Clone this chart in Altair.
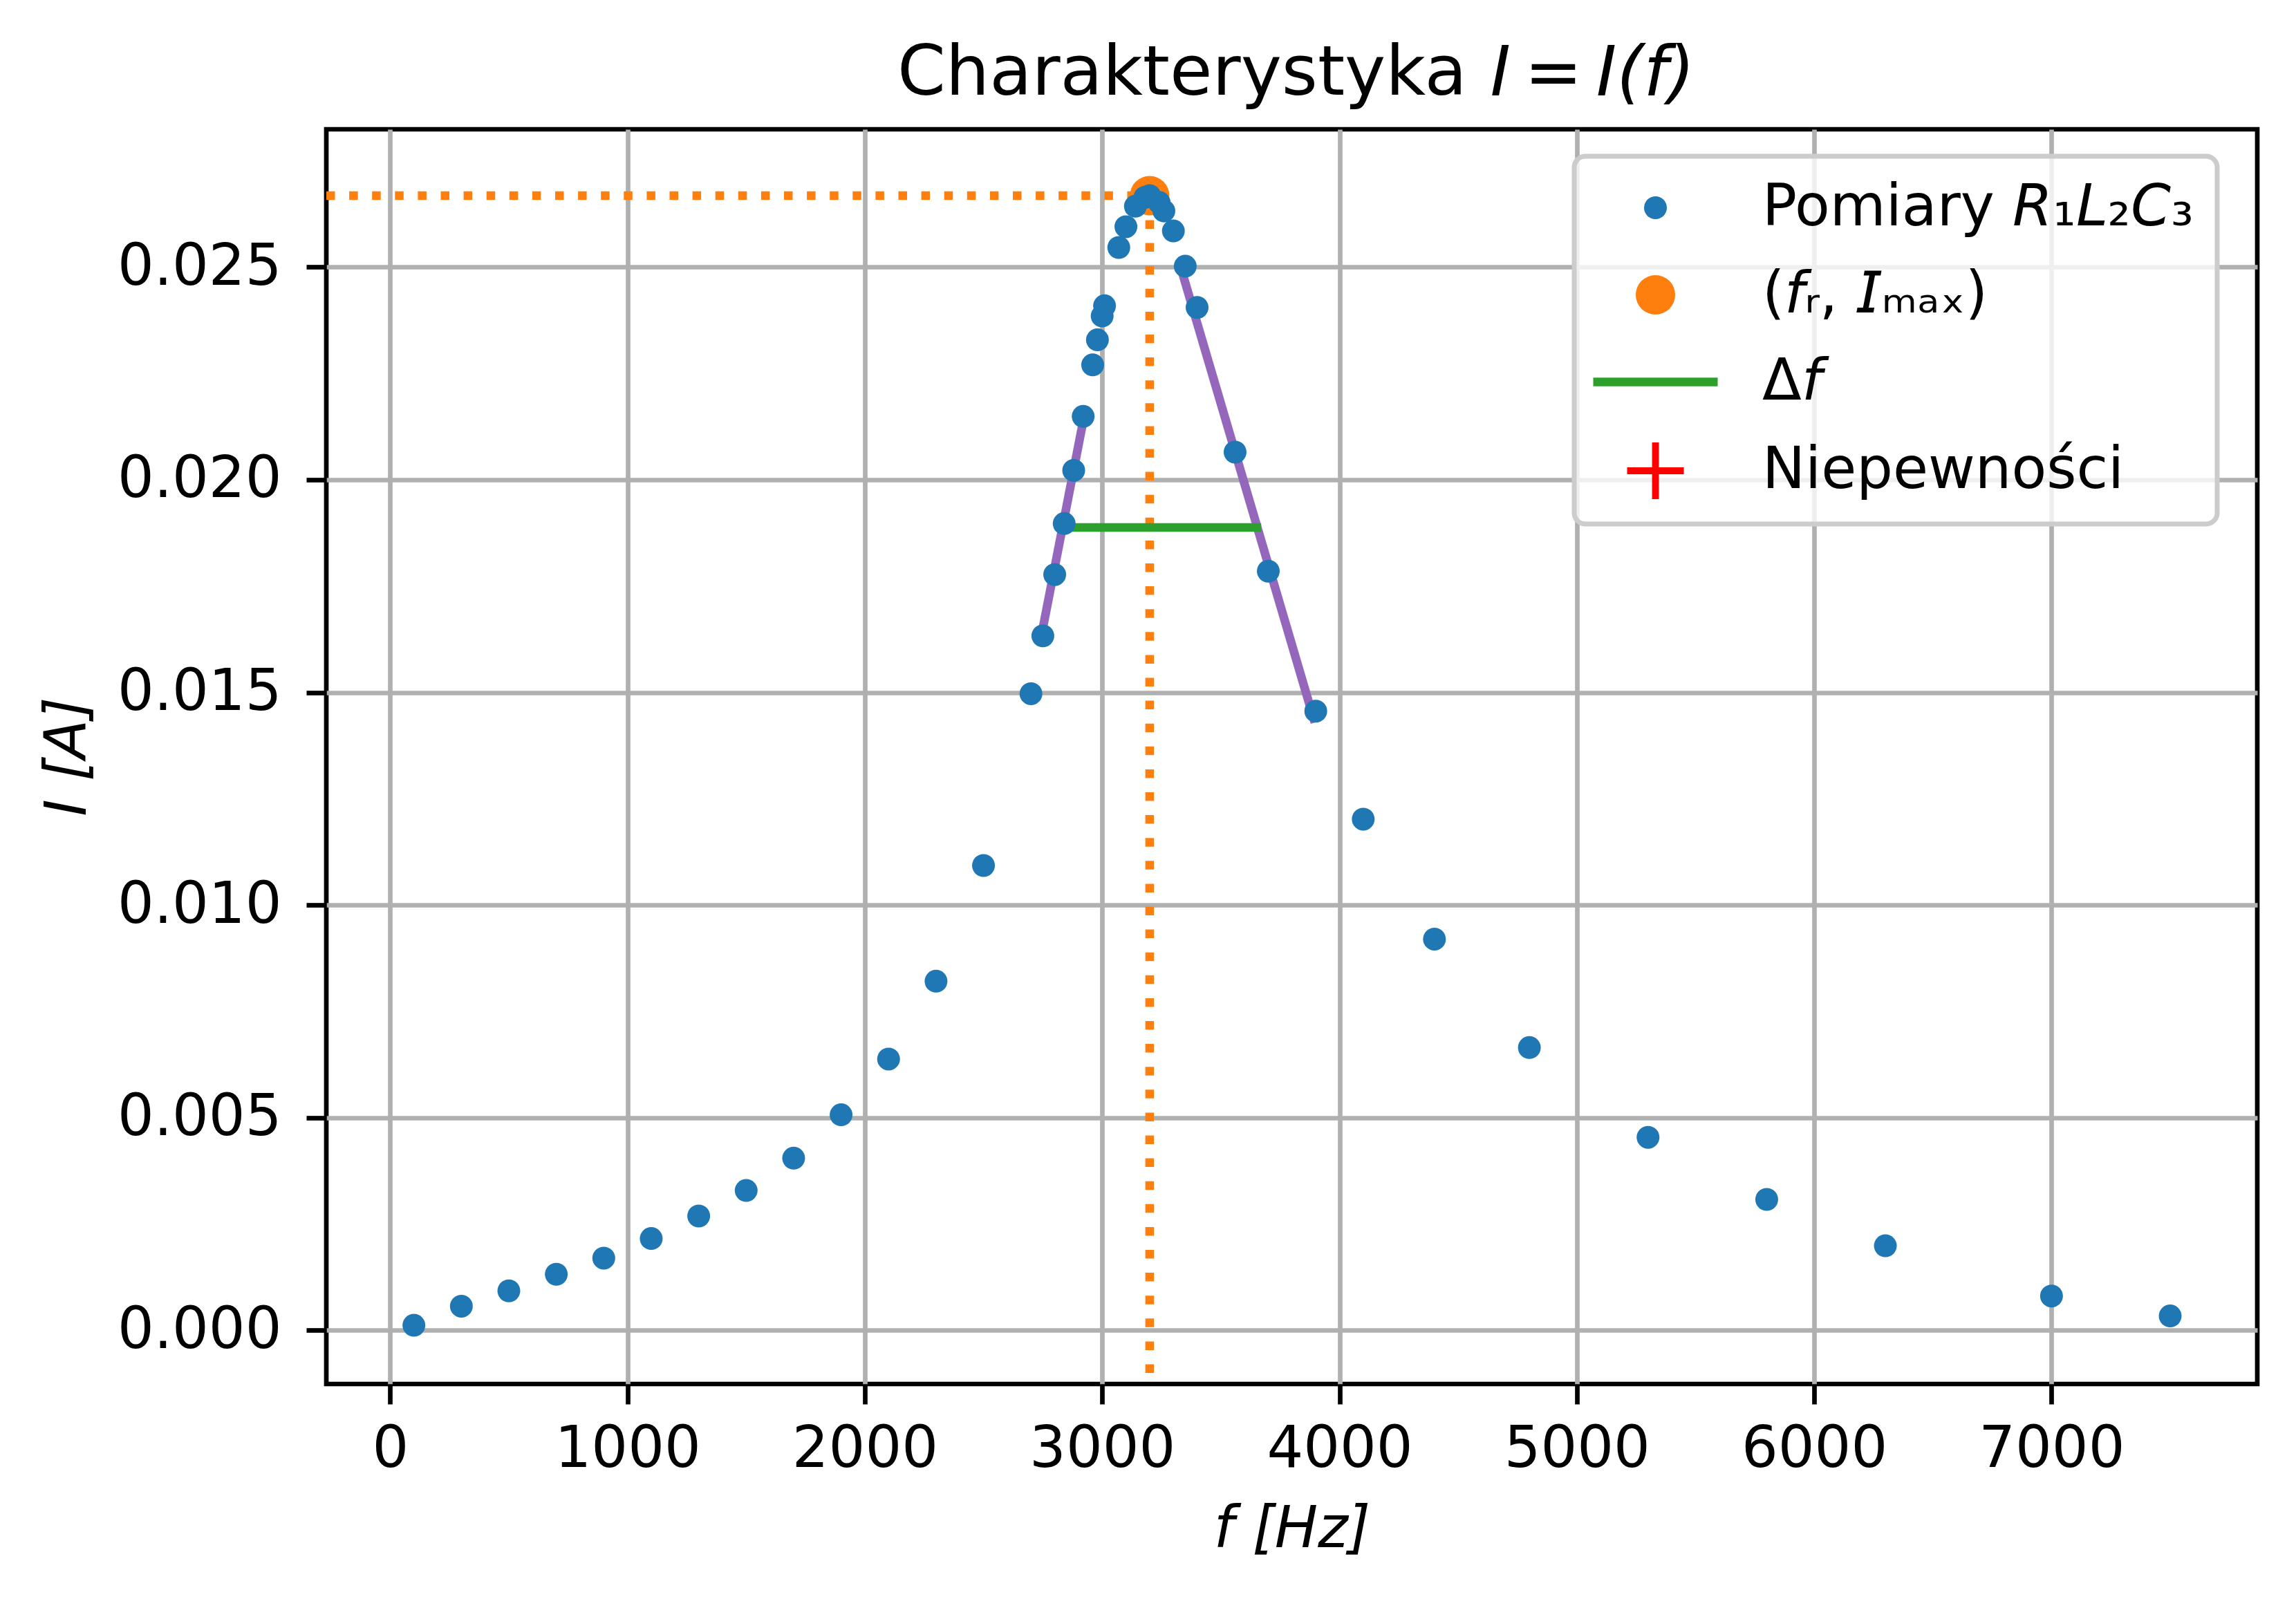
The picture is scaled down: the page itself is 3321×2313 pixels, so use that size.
import altair as alt
import pandas as pd

FONT = "DejaVu Sans"

# pomiary R1 L2 C3: czestotliwosc [Hz] i natezenie [A]
freq = [100, 300, 500, 700, 900, 1100, 1300, 1500, 1700, 1900, 2100, 2300, 2500,
        2700, 2750, 2800, 2840, 2880, 2920, 2960, 2980, 3000, 3010, 3070, 3100,
        3140, 3180, 3200, 3240, 3260, 3300, 3350, 3400, 3560, 3700, 3900, 4100,
        4400, 4800, 5300, 5800, 6300, 7000, 7500]
current = [0.00012, 0.00057, 0.00093, 0.00132, 0.00170, 0.00216, 0.00269, 0.00329,
           0.00405, 0.00507, 0.00638, 0.00821, 0.01093,
           0.01497, 0.01633, 0.01777, 0.01897, 0.02022, 0.02149, 0.02270, 0.02329,
           0.02385, 0.02409, 0.02546, 0.02595,
           0.02643, 0.02664, 0.02668, 0.02652, 0.02632, 0.02585, 0.02502, 0.02405,
           0.02065, 0.01785, 0.01456, 0.01202,
           0.00920, 0.00665, 0.00454, 0.00308, 0.00199, 0.00081, 0.00034]

# rezonans
f_r = 3200
i_max = 0.02668
i_min_line = -0.001

# szerokosc pasma
df_start, df_end, df_level = 2840, 3670, 0.01888

# proste dopasowane do zboczy
fit_f = [2749, 2920, 3337, 3896]
fit_i = [0.01648, 0.02138, 0.02488, 0.01429]
fit_side = ["lewe", "lewe", "prawe", "prawe"]

x_domain = [-269, 7867]
y_domain = [-0.00126, 0.02824]
x_ticks = [0, 1000, 2000, 3000, 4000, 5000, 6000, 7000]
y_ticks = [0.0, 0.005, 0.010, 0.015, 0.020, 0.025]

it = "\U0001D610"   # I
fi = "\U0001D627"   # f
labels = [
    "Pomiary \U0001D619\u2081\U0001D613\u2082\U0001D60A\u2083",
    "(" + fi + "\u1D63, " + it + "\u2098\u2090\u2093)",
    "\u0394" + fi,
    "Niepewności",
]
colors = ["#1f77b4", "#ff7f0e", "#2ca02c", "#ff0000"]
shapes = [
    "circle",
    "circle",
    "M-5,-0.35L5,-0.35L5,0.35L-5,0.35Z",
    "M-1,-0.12L-0.12,-0.12L-0.12,-1L0.12,-1L0.12,-0.12L1,-0.12L1,0.12"
    "L0.12,0.12L0.12,1L-0.12,1L-0.12,0.12L-1,0.12Z",
]
sizes = [1089, 3249, 1296, 6724]

points = pd.DataFrame({
    "f": [f_r] + freq,
    "I": [i_max] + current,
    "seria": [labels[1]] + [labels[0]] * len(freq),
})
hline = pd.DataFrame({"f": [x_domain[0]], "f2": [f_r], "I": [i_max]})
vline = pd.DataFrame({"f": [f_r], "I": [i_min_line], "I2": [i_max]})
band = pd.DataFrame({"f": [df_start], "f2": [df_end], "I": [df_level]})
fits = pd.DataFrame({"f": fit_f, "I": fit_i, "strona": fit_side})

x_scale = alt.Scale(domain=x_domain, nice=False, zero=False)
y_scale = alt.Scale(domain=y_domain, nice=False, zero=False)
x_enc = alt.X("f:Q", scale=x_scale,
              axis=alt.Axis(values=x_ticks, format="d", title="f [Hz]",
                            labelPadding=24, titleY=235, titleBaseline="alphabetic"))
y_enc = alt.Y("I:Q", scale=y_scale,
              axis=alt.Axis(values=y_ticks, format=".3f", title="I [A]",
                            labelPadding=36, titleX=-349, titleY=907,
                            titleBaseline="alphabetic"))
x_plain = alt.X("f:Q", axis=None)

# kursywa w tytule: "I = I(f)" jako tytul gornej osi
x_top = alt.X("f:Q",
              axis=alt.Axis(orient="top", title="I\u2009=\u2009I(f)", labels=False,
                            ticks=False, grid=False, domain=False,
                            titleX=1683, titleY=-50, titleAlign="left",
                            titleAngle=0, titleBaseline="alphabetic",
                            titleFontSize=100))

dotted = dict(color="#ff7f0e", strokeWidth=12.5, strokeDash=[12.5, 20.6], strokeCap="butt")

h_rule = alt.Chart(hline).mark_rule(**dotted).encode(x=x_enc, x2="f2:Q", y="I:Q")
v_rule = alt.Chart(vline).mark_rule(**dotted).encode(x=x_plain, y=y_enc, y2="I2:Q")

fit_lines = alt.Chart(fits).mark_line(color="#9467bd", strokeWidth=12.5).encode(
    x=x_top, y="I:Q", detail="strona:N"
)

band_rule = alt.Chart(band).mark_rule(color="#2ca02c", strokeWidth=12.5).encode(
    x=x_plain, x2="f2:Q", y="I:Q"
)

legend = alt.Legend(
    title=None, orient="none", legendX=1805, legendY=39,
    labelFontSize=83, labelFont=FONT, labelColor="black", labelLimit=2000,
    padding=33, symbolOffset=42.5, labelOffset=112.5, rowPadding=42,
    strokeColor="#cccccc", fillColor="rgba(255,255,255,0.8)", cornerRadius=16,
)

pts = alt.Chart(points).mark_point(filled=True, opacity=1, strokeWidth=0).encode(
    x=x_plain,
    y="I:Q",
    fill=alt.Fill("seria:N", scale=alt.Scale(domain=labels, range=colors), legend=legend),
    shape=alt.Shape("seria:N", scale=alt.Scale(domain=labels, range=shapes), legend=legend),
    size=alt.Size("seria:N", scale=alt.Scale(type="ordinal", domain=labels, range=sizes), legend=legend),
)

chart = (
    alt.layer(h_rule, v_rule, fit_lines, band_rule, pts)
    .resolve_axis(x="independent")
    .properties(
        width=2793,
        height=1815,
        padding={"left": 464, "top": 179, "right": 40, "bottom": 290},
        autosize=alt.AutoSizeParams(type="none"),
        title=alt.TitleParams(
            text="Charakterystyka",
            fontSize=100, fontWeight="normal", font=FONT, color="black",
            anchor="start", frame="group", dx=826, offset=-101,
        ),
    )
    .configure(font=FONT)
    .configure_view(stroke="black", strokeWidth=6.7)
    .configure_axis(
        domain=False, grid=True, gridColor="#b0b0b0", gridWidth=6.7,
        tickColor="black", tickWidth=6.7, tickSize=29,
        labelFont=FONT, labelFontSize=83, labelColor="black", labelLimit=1000,
        titleFont=FONT, titleFontSize=83, titleColor="black",
        titleFontWeight="normal", titleFontStyle="italic",
    )
    .configure_legend(strokeWidth=7)
)

chart.save("out.html", embed_options={"renderer": "svg", "actions": False})
